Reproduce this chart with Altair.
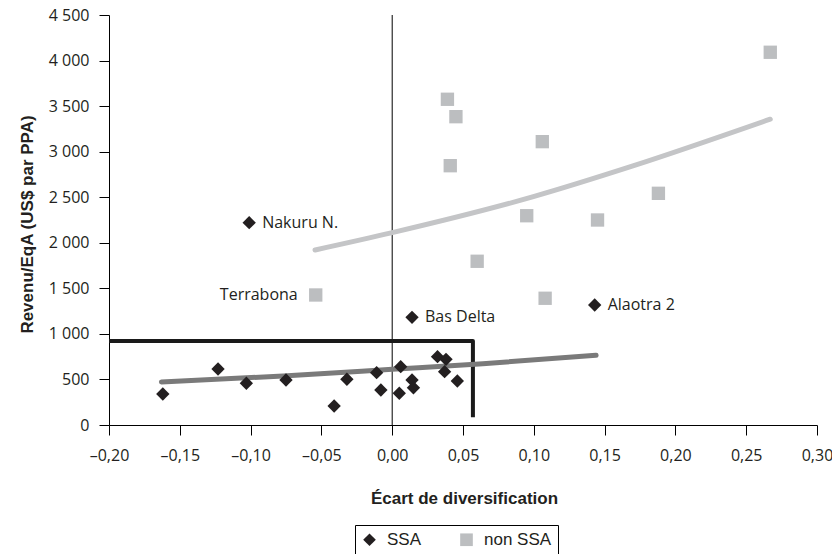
import altair as alt
import pandas as pd

# SSA points (diamonds)
ssa_x = [-0.162, -0.123, -0.103, -0.075, -0.041, -0.032, -0.011, -0.008, 0.005, 0.006,
         0.014, 0.015, 0.032, 0.038, 0.037, 0.046, -0.101, 0.014, 0.143]
ssa_y = [340, 615, 458, 494, 209, 502, 574, 384, 348, 640,
         494, 409, 750, 721, 585, 483, 2221, 1182, 1317]
ssa_label = [""] * 16 + ["Nakuru N.", "Bas Delta", "Alaotra 2"]

# non SSA points (squares)
non_x = [0.267, 0.039, 0.045, 0.106, 0.041, 0.188, 0.095, 0.145, 0.060, 0.108, -0.054]
non_y = [4091, 3575, 3384, 3110, 2846, 2543, 2297, 2250, 1797, 1391, 1427]
non_label = [""] * 10 + ["Terrabona"]

# trend curves
ssa_trend_x = [-0.163, -0.077, 0.0, 0.064, 0.144]
ssa_trend_y = [472, 538, 611, 673, 765]
non_trend_x = [-0.0545, 0.0, 0.0997, 0.170, 0.267]
non_trend_y = [1921, 2111, 2506, 2843, 3356]

# highlighted zone (L-shaped frame)
zone_x = [-0.20, 0.057, 0.057]
zone_y = [922, 922, 85]

groups = ["SSA", "non SSA"]
x_ticks = [-0.20, -0.15, -0.10, -0.05, 0.0, 0.05, 0.10, 0.15, 0.20, 0.25, 0.30]
y_ticks = [0, 500, 1000, 1500, 2000, 2500, 3000, 3500, 4000, 4500]

pts = pd.DataFrame({
    "x": ssa_x + non_x,
    "y": ssa_y + non_y,
    "grp": ["SSA"] * len(ssa_x) + ["non SSA"] * len(non_x),
    "label": ssa_label + non_label,
})
trend_ssa = pd.DataFrame({"x": ssa_trend_x, "y": ssa_trend_y, "o": list(range(len(ssa_trend_x)))})
trend_non = pd.DataFrame({"x": non_trend_x, "y": non_trend_y, "o": list(range(len(non_trend_x)))})
zone = pd.DataFrame({"x": zone_x, "y": zone_y, "o": list(range(len(zone_x)))})
zero = pd.DataFrame({"x": [0.0]})

TXT = "#231f20"
LABEL_FONT = "Open Sans"
TITLE_FONT = "Liberation Sans"

xscale = alt.Scale(domain=[-0.2, 0.3], nice=False, zero=False)
yscale = alt.Scale(domain=[0, 4500], nice=False)

xaxis = alt.Axis(
    title="Écart de diversification", values=x_ticks,
    labelExpr="replace(replace(format(datum.value, '.2f'), '.', ','), '\u2212', '\u2013')",
    grid=False, domainColor="black", tickColor="black", tickSize=10, labelPadding=12,
    labelFont=LABEL_FONT, labelFontSize=16, labelColor=TXT, labelFlush=False,
    titleFont=TITLE_FONT, titleFontSize=17, titleFontWeight="bold", titleColor=TXT,
    titleBaseline="alphabetic", titleY=78, titleX=355,
)
yaxis = alt.Axis(
    title="Revenu/EqA (US$ par PPA)", values=y_ticks,
    labelExpr="replace(format(datum.value, ','), ',', ' ')",
    grid=False, domainColor="black", tickColor="black", tickSize=10, labelPadding=10,
    labelFont=LABEL_FONT, labelFontSize=16, labelColor=TXT, labelFlush=False,
    titleFont=TITLE_FONT, titleFontSize=17, titleFontWeight="bold", titleColor=TXT,
    titleX=-82, titleY=209, titleBaseline="middle", titleAlign="center", titleAngle=-90,
)

legend = alt.Legend(
    title=None, orient="none", legendX=246, legendY=510, direction="horizontal",
    strokeColor="black", padding=6, symbolSize=160,
    labelFont=TITLE_FONT, labelFontSize=17, labelColor=TXT, labelOffset=9,
    columnPadding=36,
)

base_x = alt.X("x:Q", scale=xscale, axis=xaxis)
base_y = alt.Y("y:Q", scale=yscale, axis=yaxis)

zero_rule = alt.Chart(zero).mark_rule(color="black", strokeWidth=1).encode(
    x=alt.X("x:Q", scale=xscale)
)

zone_line = alt.Chart(zone).mark_line(color="#1a1a1a", strokeWidth=4, strokeJoin="round").encode(
    x=base_x, y=base_y, order="o:Q"
)

trend_ssa_line = alt.Chart(trend_ssa).mark_line(
    strokeWidth=5, strokeCap="round", interpolate="monotone", color="#7a7a7a"
).encode(x=base_x, y=base_y, order="o:Q")

trend_non_line = alt.Chart(trend_non).mark_line(
    strokeWidth=5, strokeCap="round", interpolate="monotone", color="#c4c5c7"
).encode(x=base_x, y=base_y, order="o:Q")

points = alt.Chart(pts).mark_point(filled=True, opacity=1, size=178).encode(
    x=base_x, y=base_y,
    shape=alt.Shape("grp:N", scale=alt.Scale(domain=groups, range=["diamond", "square"]),
                    legend=legend),
    color=alt.Color("grp:N", scale=alt.Scale(domain=groups, range=[TXT, "#bcbec0"]),
                    legend=legend),
)

labels_right = alt.Chart(pts).transform_filter(
    "datum.label != '' && datum.grp == 'SSA'"
).mark_text(align="left", baseline="middle", dx=13, font=LABEL_FONT, fontSize=16, color=TXT).encode(
    x=base_x, y=base_y, text="label:N"
)
labels_left = alt.Chart(pts).transform_filter(
    "datum.label != '' && datum.grp == 'non SSA'"
).mark_text(align="right", baseline="middle", dx=-18, font=LABEL_FONT, fontSize=16, color=TXT).encode(
    x=base_x, y=base_y, text="label:N"
)

chart = alt.layer(zero_rule, zone_line, trend_ssa_line, trend_non_line, points,
                  labels_right, labels_left).properties(
    width=708, height=410,
    autosize=alt.AutoSizeParams(type="none"),
    padding={"left": 101, "top": 7, "right": 15, "bottom": 131},
).configure_view(stroke=None)

chart.save("out.html", embed_options={"renderer": "svg", "actions": False})
